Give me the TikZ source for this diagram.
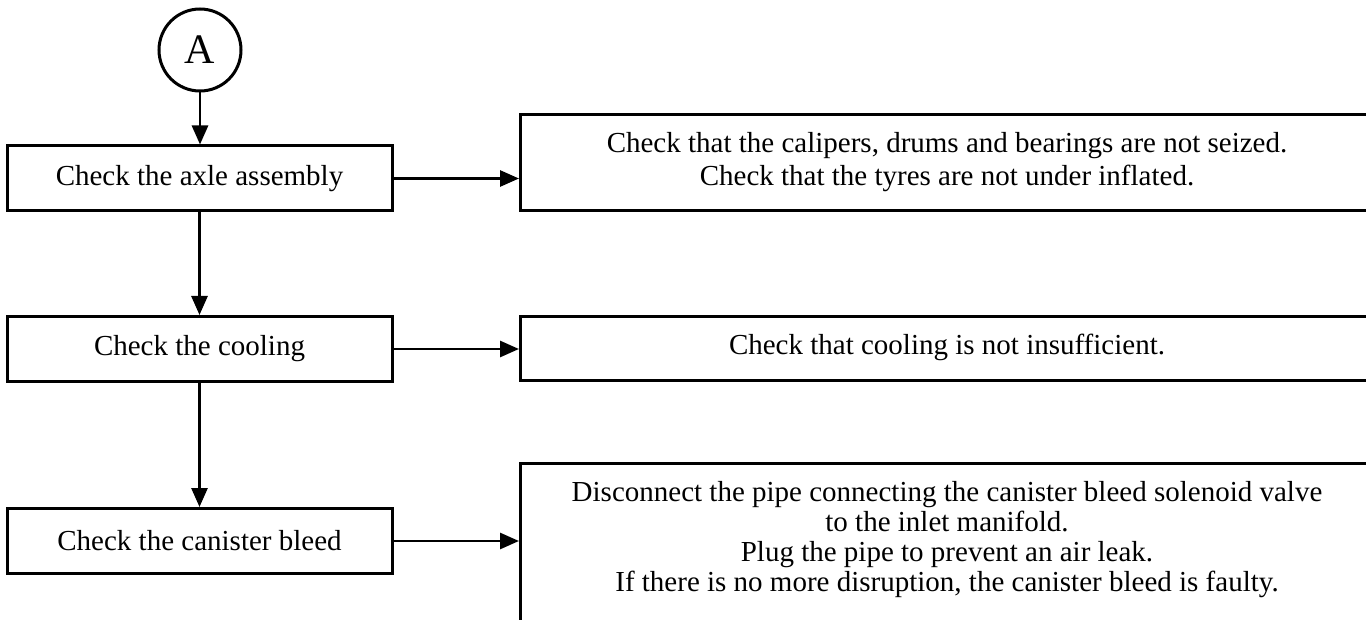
\documentclass[tikz,border=0pt]{standalone}
\usepackage{fontspec}
\setmainfont{Liberation Serif}
\usetikzlibrary{arrows.meta}
\newcommand{\rtxt}[1]{\begin{tabular}{@{}c@{}}#1\end{tabular}\hspace{10pt}}
\begin{document}
\begin{tikzpicture}[x=0.5pt,y=-0.5pt,
  bodyfont/.style={font=\fontsize{14.5pt}{15pt}\selectfont},
  lbox/.style={draw, line width=1.5pt, minimum width=192.5pt, minimum height=32.5pt, inner sep=0pt, bodyfont},
  rbox/.style={draw, line width=1.5pt, anchor=west, minimum width=426.5pt, inner xsep=0pt, inner ysep=0pt, bodyfont},
  conn/.style={line width=1.4pt, -{Triangle[length=9.5pt,width=8pt]}},
  startc/.style={draw, circle, line width=1.5pt, minimum size=41pt, inner sep=0pt, font=\fontsize{21pt}{23pt}\selectfont}]
\useasboundingbox (0,0) rectangle (1366,620);

\node[startc] (A) at (200,50) {A};

\node[lbox] (b1) at (199.5,178.5) {Check the axle assembly};
\node[lbox] (b2) at (199.5,349) {Check the cooling};
\node[lbox] (b3) at (199.5,541) {Check the canister bleed};

\node[rbox, minimum height=48pt] (r1) at (519,163)
  {\rtxt{Check that the calipers, drums and bearings are not seized.\\[1.5pt]Check that the tyres are not under inflated.}};
\node[rbox, minimum height=32pt] (r2) at (519,349)
  {\rtxt{Check that cooling is not insufficient.}};
\node[rbox, anchor=north west, inner ysep=8.5pt, text depth=100pt] (r3) at (519,462)
  {\rtxt{Disconnect the pipe connecting the canister bleed solenoid valve\\to the inlet manifold.\\Plug the pipe to prevent an air leak.\\If there is no more disruption, the canister bleed is faulty.}};

\draw[conn] (A.south) -- (A.south |- b1.north);
\draw[conn] (b1) -- (b2);
\draw[conn] (b2) -- (b3);
\draw[conn] (b1.east) -- (b1.east -| r1.west);
\draw[conn] (b2.east) -- (b2.east -| r2.west);
\draw[conn] (b3.east) -- (b3.east -| r3.west);
\end{tikzpicture}
\end{document}
